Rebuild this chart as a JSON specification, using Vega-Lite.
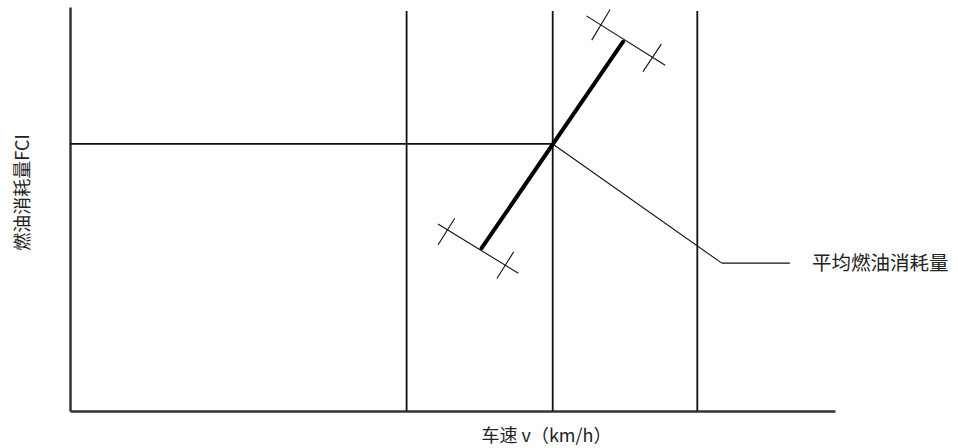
{
  "$schema": "https://vega.github.io/schema/vega-lite/v6.json",
  "width": 765,
  "height": 404,
  "autosize": {"type": "none"},
  "padding": {"left": 70, "top": 7, "right": 123, "bottom": 37},
  "background": "white",
  "config": {"view": {"stroke": null}},
  "datasets": {
    "verticals": [
      {"x": 44.0, "y": 0, "x2": 44.0, "y2": 99.0},
      {"x": 63.1, "y": 0, "x2": 63.1, "y2": 99.0},
      {"x": 82.0, "y": 0, "x2": 82.0, "y2": 99.0},
      {"x": 0, "y": 66.1, "x2": 63.1, "y2": 66.1}
    ],
    "thick": [
      {"x": 53.8, "y": 40.3, "x2": 72.3, "y2": 91.4}
    ],
    "thin": [
      {"x": 67.5, "y": 97.8, "x2": 77.8, "y2": 85.6},
      {"x": 68.2, "y": 91.8, "x2": 70.6, "y2": 99.4},
      {"x": 74.9, "y": 84.0, "x2": 77.3, "y2": 90.8},
      {"x": 48.1, "y": 46.3, "x2": 58.6, "y2": 34.1},
      {"x": 48.1, "y": 41.1, "x2": 50.3, "y2": 47.7},
      {"x": 55.8, "y": 32.8, "x2": 58.0, "y2": 39.4},
      {"x": 63.1, "y": 66.1, "x2": 85.2, "y2": 36.6},
      {"x": 85.2, "y": 36.6, "x2": 94.1, "y2": 36.6}
    ],
    "labels": [
      {"x": 97.0, "y": 36.4, "text": "平均燃油消耗量"}
    ]
  },
  "layer": [
    {
      "data": {"name": "verticals"},
      "mark": {"type": "rule", "color": "#111", "strokeWidth": 1.8},
      "encoding": {
        "x": {
          "field": "x", "type": "quantitative",
          "scale": {"domain": [0, 100], "nice": false, "zero": false},
          "axis": {
            "title": "车速 v（km/h）",
            "labels": false, "ticks": false, "grid": false,
            "domainColor": "#333", "domainWidth": 2.5,
            "titleX": 476, "titleY": 25,
            "titleAlign": "center", "titleBaseline": "middle",
            "titleFont": "Noto Sans CJK SC", "titleFontSize": 18,
            "titleFontWeight": "normal", "titleColor": "#222"
          }
        },
        "y": {
          "field": "y", "type": "quantitative",
          "scale": {"domain": [0, 100], "nice": false, "zero": false},
          "axis": {
            "title": "燃油消耗量FCI",
            "labels": false, "ticks": false, "grid": false,
            "domainColor": "#333", "domainWidth": 2.5,
            "titleX": -47, "titleY": 185, "titleAngle": -90,
            "titleAlign": "center", "titleBaseline": "middle",
            "titleFont": "Noto Sans CJK SC", "titleFontSize": 18,
            "titleFontWeight": "normal", "titleColor": "#222"
          }
        },
        "x2": {"field": "x2"},
        "y2": {"field": "y2"}
      }
    },
    {
      "data": {"name": "thick"},
      "mark": {"type": "rule", "color": "#000", "strokeWidth": 4, "strokeCap": "round"},
      "encoding": {
        "x": {"field": "x", "type": "quantitative"},
        "y": {"field": "y", "type": "quantitative"},
        "x2": {"field": "x2"},
        "y2": {"field": "y2"}
      }
    },
    {
      "data": {"name": "thin"},
      "mark": {"type": "rule", "color": "#111", "strokeWidth": 1.1},
      "encoding": {
        "x": {"field": "x", "type": "quantitative"},
        "y": {"field": "y", "type": "quantitative"},
        "x2": {"field": "x2"},
        "y2": {"field": "y2"}
      }
    },
    {
      "data": {"name": "labels"},
      "mark": {"type": "text", "align": "left", "baseline": "middle", "font": "Noto Sans CJK SC", "fontSize": 19.5, "color": "#222"},
      "encoding": {
        "x": {"field": "x", "type": "quantitative"},
        "y": {"field": "y", "type": "quantitative"},
        "text": {"field": "text"}
      }
    }
  ]
}
